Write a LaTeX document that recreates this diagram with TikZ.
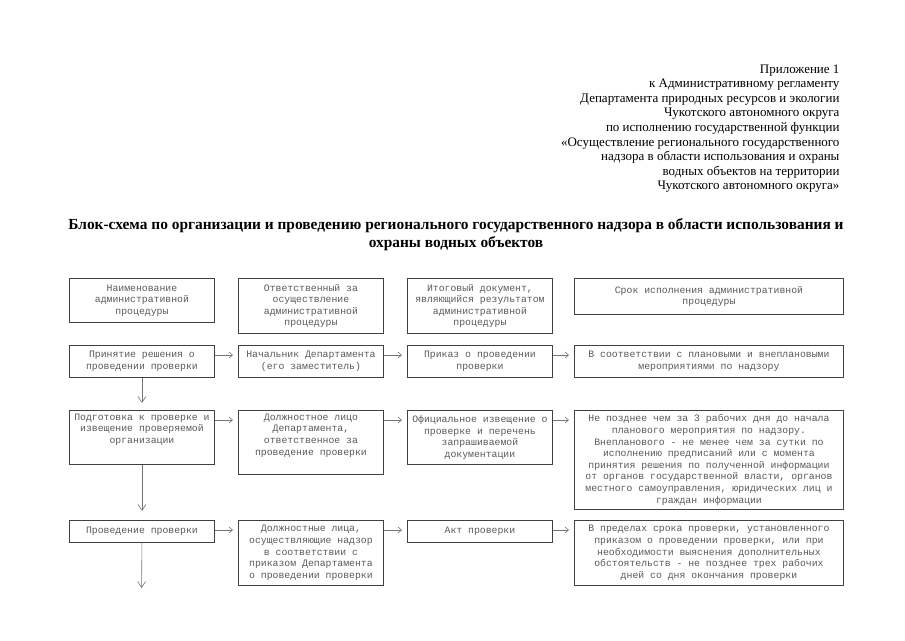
\documentclass[tikz,border=0pt]{standalone}
\usepackage{fontspec}
\setmainfont{Liberation Serif}
\newfontfamily\cellfont{Liberation Mono}
\usetikzlibrary{arrows.meta}
\tikzstyle{cell} = [rectangle, draw=black!75, line width=0.9pt, anchor=north west, align=center, inner sep=3pt, text=black!65, font=\cellfont\fontsize{9.8}{11.6}\selectfont]
\tikzstyle{narrowcell} = [cell, minimum width=145pt]
\tikzstyle{widecell} = [cell, minimum width=269pt]
\tikzstyle{harrow} = [draw=black!55, line width=0.6pt, -{Straight Barb[length=3.5pt,width=6pt]}, shorten >=5pt]
\tikzstyle{varrow} = [draw=black!55, line width=0.6pt, -{Straight Barb[length=6pt,width=8pt]}, shorten >=7pt]

\begin{document}
\begin{tikzpicture}[x=1pt, y=-1pt]
\useasboundingbox (0,0) rectangle (905,640);

% Appendix note, top right
\node[anchor=north east, align=right, font=\fontsize{13}{14.6}\selectfont] (appx) at (843,61)
  {Приложение 1\\к Административному регламенту\\Департамента природных ресурсов и экологии\\Чукотского автономного округа\\по исполнению государственной функции\\«Осуществление регионального государственного\\надзора в области использования и охраны\\водных объектов на территории\\Чукотского автономного округа»};
% Title
\node[anchor=north, align=center, font=\bfseries\fontsize{15.4}{17.5}\selectfont] (title) at (456,215)
  {Блок-схема по организации и проведению регионального государственного надзора в области использования и\\охраны водных объектов};

% Column headers
\node[narrowcell, minimum height=44pt] (h1) at (69,278) {Наименование\\административной\\процедуры};
\node[narrowcell, minimum height=55pt] (h2) at (238,278) {Ответственный за\\осуществление\\административной\\процедуры};
\node[narrowcell, minimum height=55pt] (h3) at (407,278) {Итоговый документ,\\являющийся результатом\\административной\\процедуры};
\node[widecell, minimum height=36pt] (h4) at (574,278) {Срок исполнения административной\\процедуры};
% Row 1, decision
\node[narrowcell, minimum height=32pt] (r1a) at (69,345) {Принятие решения о\\проведении проверки};
\node[narrowcell, minimum height=32pt] (r1b) at (238,345) {Начальник Департамента\\(его заместитель)};
\node[narrowcell, minimum height=32pt] (r1c) at (407,345) {Приказ о проведении\\проверки};
\node[widecell, minimum height=32pt] (r1d) at (574,345) {В соответствии с плановыми и внеплановыми\\мероприятиями по надзору};
% Row 2, preparation
\node[narrowcell, minimum height=54pt, text depth=18pt] (r2a) at (69,410) {Подготовка к проверке и\\извещение проверяемой\\организации};
\node[narrowcell, minimum height=64pt, text depth=16pt] (r2b) at (238,410) {Должностное лицо\\Департамента,\\ответственное за\\проведение проверки};
\node[narrowcell, minimum height=54pt] (r2c) at (407,410) {Официальное извещение о\\проверке и перечень\\запрашиваемой\\документации};
\node[widecell, minimum height=99pt] (r2d) at (574,410) {Не позднее чем за 3 рабочих дня до начала\\планового мероприятия по надзору.\\Внепланового - не менее чем за сутки по\\исполнению предписаний или с момента\\принятия решения по полученной информации\\от органов государственной власти, органов\\местного самоуправления, юридических лиц и\\граждан информации};
% Row 3, inspection
\node[narrowcell, minimum height=22pt] (r3a) at (69,520) {Проведение проверки};
\node[narrowcell, minimum height=65pt] (r3b) at (238,520) {Должностные лица,\\осуществляющие надзор\\в соответствии с\\приказом Департамента\\о проведении проверки};
\node[narrowcell, minimum height=22pt] (r3c) at (407,520) {Акт проверки};
\node[widecell, minimum height=65pt] (r3d) at (574,520) {В пределах срока проверки, установленного\\приказом о проведении проверки, или при\\необходимости выяснения дополнительных\\обстоятельств - не позднее трех рабочих\\дней со дня окончания проверки};
\coordinate (tail) at (141.5,595);

% ARROWS
% along the rows
\foreach \r in {r1,r2,r3} {
  \draw[harrow] ([yshift=-10pt]\r a.north east) -- ([yshift=-10pt]\r b.north west);
  \draw[harrow] ([yshift=-10pt]\r b.north east) -- ([yshift=-10pt]\r c.north west);
  \draw[harrow] ([yshift=-10pt]\r c.north east) -- ([yshift=-10pt]\r d.north west);
}
% down the first column
\draw[varrow] (r1a.south) -- (r2a.north);
\draw[varrow, shorten >=9pt] (r2a.south) -- (r3a.north);
\draw[varrow] (r3a.south) -- (tail);
\end{tikzpicture}
\end{document}
